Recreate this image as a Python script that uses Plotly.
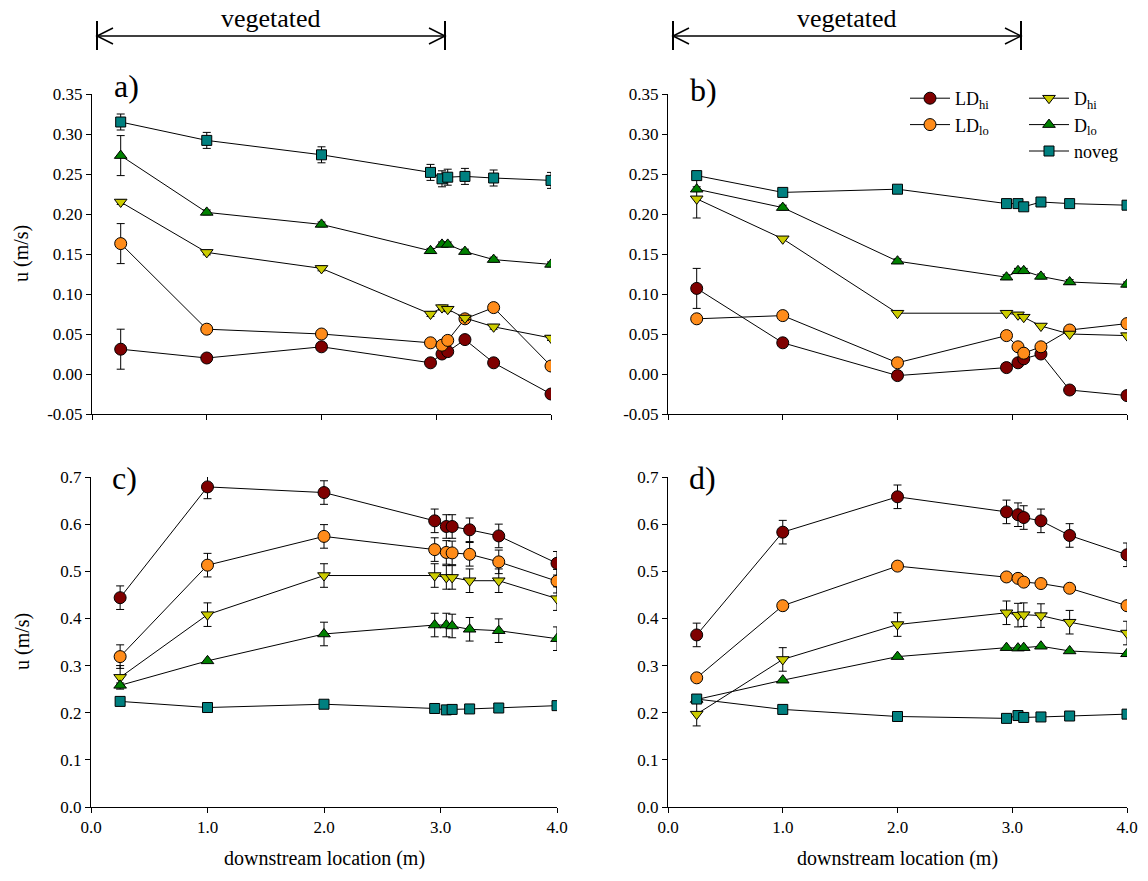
import plotly.graph_objects as go

W, H = 1148, 881

# ---------------- data ----------------
X = [0.25, 1.0, 2.0, 2.95, 3.05, 3.10, 3.25, 3.50, 4.0]

series_names = ["LD<sub>hi</sub>", "LD<sub>lo</sub>", "D<sub>hi</sub>", "D<sub>lo</sub>", "noveg"]

# panel a
LDhi_a = [0.031, 0.020, 0.034, 0.014, 0.025, 0.028, 0.043, 0.014, -0.025]
LDlo_a = [0.163, 0.056, 0.050, 0.039, 0.036, 0.042, 0.069, 0.083, 0.010]
Dhi_a = [0.215, 0.152, 0.132, 0.075, 0.083, 0.081, 0.070, 0.059, 0.045]
Dlo_a = [0.273, 0.202, 0.187, 0.154, 0.162, 0.162, 0.153, 0.143, 0.137]
noveg_a = [0.315, 0.292, 0.274, 0.252, 0.244, 0.246, 0.247, 0.245, 0.242]
err_LDhi_a = [0.025, 0, 0, 0, 0, 0, 0, 0, 0]
err_LDlo_a = [0.025, 0, 0, 0, 0, 0, 0, 0, 0]
err_Dhi_a = [0.003, 0.003, 0.003, 0.003, 0.003, 0.003, 0.003, 0.003, 0.003]
err_Dlo_a = [0.025, 0.003, 0.003, 0.003, 0.003, 0.003, 0.003, 0.003, 0.003]
err_noveg_a = [0.01, 0.01, 0.01, 0.01, 0.01, 0.01, 0.01, 0.01, 0.01]

# panel b
LDhi_b = [0.107, 0.039, -0.002, 0.008, 0.014, 0.019, 0.025, -0.020, -0.027]
LDlo_b = [0.069, 0.073, 0.014, 0.048, 0.034, 0.026, 0.034, 0.055, 0.063]
Dhi_b = [0.219, 0.169, 0.076, 0.076, 0.074, 0.071, 0.060, 0.050, 0.048]
Dlo_b = [0.231, 0.208, 0.141, 0.121, 0.129, 0.129, 0.122, 0.115, 0.112]
noveg_b = [0.248, 0.227, 0.231, 0.213, 0.213, 0.209, 0.215, 0.213, 0.211]
err_LDhi_b = [0.025, 0, 0, 0, 0, 0, 0, 0, 0]
err_LDlo_b = [0, 0, 0, 0, 0, 0, 0, 0, 0]
err_Dhi_b = [0.024, 0, 0, 0, 0, 0, 0, 0, 0]
err_Dlo_b = [0.003, 0.003, 0.003, 0.003, 0.003, 0.003, 0.003, 0.003, 0.003]
err_noveg_b = [0.003, 0.003, 0.003, 0.003, 0.003, 0.003, 0.003, 0.003, 0.003]

# panel c
LDhi_c = [0.444, 0.679, 0.667, 0.607, 0.595, 0.595, 0.588, 0.575, 0.517]
LDlo_c = [0.319, 0.513, 0.574, 0.546, 0.540, 0.539, 0.536, 0.520, 0.479]
Dhi_c = [0.275, 0.408, 0.491, 0.491, 0.487, 0.487, 0.480, 0.480, 0.442]
Dlo_c = [0.258, 0.310, 0.367, 0.386, 0.386, 0.384, 0.377, 0.374, 0.357]
noveg_c = [0.224, 0.211, 0.218, 0.209, 0.206, 0.207, 0.208, 0.210, 0.215]
err_LDhi_c = [0.025] * 9
err_LDlo_c = [0.025] * 9
err_Dhi_c = [0.025] * 9
err_Dlo_c = [0.005, 0, 0.025, 0.025, 0.025, 0.025, 0.025, 0.025, 0.025]
err_noveg_c = [0.005] * 9

# panel d
LDhi_d = [0.365, 0.583, 0.658, 0.626, 0.620, 0.614, 0.607, 0.576, 0.535]
LDlo_d = [0.274, 0.427, 0.511, 0.488, 0.485, 0.477, 0.474, 0.464, 0.427]
Dhi_d = [0.197, 0.313, 0.387, 0.412, 0.407, 0.408, 0.406, 0.392, 0.369]
Dlo_d = [0.228, 0.269, 0.319, 0.338, 0.337, 0.338, 0.341, 0.331, 0.325]
noveg_d = [0.229, 0.207, 0.192, 0.188, 0.194, 0.190, 0.191, 0.193, 0.197]
err_LDhi_d = [0.025] * 9
err_LDlo_d = [0] * 9
err_Dhi_d = [0.025] * 9
err_Dlo_d = [0] * 9
err_noveg_d = [0.008, 0, 0, 0, 0, 0, 0, 0, 0]

x_tickvals = [0, 1, 2, 3, 4]
x_ticktext = ["0.0", "1.0", "2.0", "3.0", "4.0"]
y_ticks_top = [-0.05, 0.0, 0.05, 0.10, 0.15, 0.20, 0.25, 0.30, 0.35]
y_ticktext_top = ["-0.05", "0.00", "0.05", "0.10", "0.15", "0.20", "0.25", "0.30", "0.35"]
y_ticks_bottom = [0.0, 0.1, 0.2, 0.3, 0.4, 0.5, 0.6, 0.7]
y_ticktext_bottom = ["0.0", "0.1", "0.2", "0.3", "0.4", "0.5", "0.6", "0.7"]

# ---------------- styles ----------------
colors = ["#7f0000", "#ff8c1a", "#cccc00", "#008000", "#008080"]
symbols = ["circle", "circle", "triangle-down", "triangle-up", "square"]
sizes = [12, 12, 11, 11, 10]
legend_ids = ["legend", "legend", "legend2", "legend2", "legend2"]
FONT = "Liberation Serif"

panels = [
    ("x", "y", [LDhi_a, LDlo_a, Dhi_a, Dlo_a, noveg_a],
     [err_LDhi_a, err_LDlo_a, err_Dhi_a, err_Dlo_a, err_noveg_a]),
    ("x2", "y2", [LDhi_b, LDlo_b, Dhi_b, Dlo_b, noveg_b],
     [err_LDhi_b, err_LDlo_b, err_Dhi_b, err_Dlo_b, err_noveg_b]),
    ("x3", "y3", [LDhi_c, LDlo_c, Dhi_c, Dlo_c, noveg_c],
     [err_LDhi_c, err_LDlo_c, err_Dhi_c, err_Dlo_c, err_noveg_c]),
    ("x4", "y4", [LDhi_d, LDlo_d, Dhi_d, Dlo_d, noveg_d],
     [err_LDhi_d, err_LDlo_d, err_Dhi_d, err_Dlo_d, err_noveg_d]),
]

fig = go.Figure()
for pi, (xa, ya, ys, errs) in enumerate(panels):
    for si in range(5):
        fig.add_trace(go.Scatter(
            x=X, y=ys[si], xaxis=xa, yaxis=ya,
            mode="lines+markers",
            name=series_names[si],
            legend=legend_ids[si],
            showlegend=(pi == 1),
            line=dict(color="black", width=1),
            marker=dict(symbol=symbols[si], size=sizes[si], color=colors[si],
                        line=dict(color="black", width=1)),
            error_y=dict(type="data", array=errs[si], visible=True,
                         color="black", thickness=1, width=4),
        ))


def px(xp, yp):
    return xp / W, 1 - yp / H


def xdom(l, r):
    return [l / W, r / W]


def ydom(t, b):
    return [1 - b / H, 1 - t / H]


axis_common = dict(showline=True, linecolor="black", linewidth=1, ticks="outside",
                   ticklen=5, tickcolor="black", showgrid=False, zeroline=False,
                   automargin=False,
                   tickfont=dict(family=FONT, size=17, color="black"))

legend_font = dict(family=FONT, size=18, color="black")
layout = dict(
    template="none",
    width=W, height=H, margin=dict(l=0, r=0, t=0, b=0, autoexpand=False),
    paper_bgcolor="white", plot_bgcolor="white",
    font=dict(family=FONT, color="black"),
    xaxis=dict(domain=xdom(92, 551), range=[0, 4], tickvals=x_tickvals,
               showticklabels=False, anchor="y", **axis_common),
    yaxis=dict(domain=ydom(94, 414), range=[-0.05, 0.35], tickvals=y_ticks_top,
               ticktext=y_ticktext_top, anchor="x", **axis_common),
    xaxis2=dict(domain=xdom(668, 1127), range=[0, 4], tickvals=x_tickvals,
                showticklabels=False, anchor="y2", **axis_common),
    yaxis2=dict(domain=ydom(94, 414), range=[-0.05, 0.35], tickvals=y_ticks_top,
                ticktext=y_ticktext_top, anchor="x2", **axis_common),
    xaxis3=dict(domain=xdom(91, 557), range=[0, 4], tickvals=x_tickvals,
                ticktext=x_ticktext, anchor="y3", **axis_common),
    yaxis3=dict(domain=ydom(477, 807), range=[0, 0.7], tickvals=y_ticks_bottom,
                ticktext=y_ticktext_bottom, anchor="x3", **axis_common),
    xaxis4=dict(domain=xdom(668, 1127), range=[0, 4], tickvals=x_tickvals,
                ticktext=x_ticktext, anchor="y4", **axis_common),
    yaxis4=dict(domain=ydom(477, 807), range=[0, 0.7], tickvals=y_ticks_bottom,
                ticktext=y_ticktext_bottom, anchor="x4", **axis_common),
    legend=dict(x=px(905, 0)[0], y=px(0, 80)[1], xanchor="left", yanchor="top",
                itemwidth=40,
                bgcolor="rgba(0,0,0,0)", borderwidth=0, font=legend_font, tracegroupgap=0),
    legend2=dict(x=px(1024, 0)[0], y=px(0, 80)[1], xanchor="left", yanchor="top",
                 itemwidth=40,
                 bgcolor="rgba(0,0,0,0)", borderwidth=0, font=legend_font, tracegroupgap=0),
)
fig.update_layout(**layout)

annotations = []
shapes = []

# panel letters
for label, (xp, yp) in [("a)", (126, 86)), ("b)", (703, 90)), ("c)", (125, 478)), ("d)", (702, 478))]:
    x, y = px(xp, yp)
    annotations.append(dict(text=label, x=x, y=y, xref="paper", yref="paper",
                            showarrow=False, xanchor="center", yanchor="middle",
                            font=dict(family=FONT, size=32, color="black")))

# y axis titles
for yp in (254, 642):
    x, y = px(22, yp)
    annotations.append(dict(text="u (m/s)", x=x, y=y, xref="paper", yref="paper",
                            showarrow=False, textangle=-90, xanchor="center", yanchor="middle",
                            font=dict(family=FONT, size=20, color="black")))

# x axis titles
for xp in (324, 897):
    x, y = px(xp, 858)
    annotations.append(dict(text="downstream location (m)", x=x, y=y, xref="paper", yref="paper",
                            showarrow=False, xanchor="center", yanchor="middle",
                            font=dict(family=FONT, size=20, color="black")))

# vegetated arrows
for L, R in [(97, 445), (673, 1021)]:
    yc = 36
    x, y = px((L + R) / 2, 18)
    annotations.append(dict(text="vegetated", x=x, y=y, xref="paper", yref="paper",
                            showarrow=False, xanchor="center", yanchor="middle",
                            font=dict(family=FONT, size=26, color="black")))
    x0, y0 = px(L, yc)
    x1, y1 = px(R, yc)
    shapes.append(dict(type="line", xref="paper", yref="paper", x0=x0, y0=y0, x1=x1, y1=y1,
                       line=dict(color="black", width=1.5)))
    for xb in (L, R):
        a0 = px(xb, 21)
        a1 = px(xb, 50)
        shapes.append(dict(type="line", xref="paper", yref="paper", x0=a0[0], y0=a0[1],
                           x1=a1[0], y1=a1[1], line=dict(color="black", width=2)))
    for tip, d in ((L, 1), (R, -1)):
        p1 = px(tip + d * 16, yc - 8)
        p2 = px(tip, yc)
        p3 = px(tip + d * 16, yc + 8)
        path = f"M {p1[0]} {p1[1]} L {p2[0]} {p2[1]} L {p3[0]} {p3[1]}"
        shapes.append(dict(type="path", xref="paper", yref="paper", path=path,
                           line=dict(color="black", width=1.5)))

fig.update_layout(annotations=annotations, shapes=shapes)
fig.write_html("out.html", config={"displayModeBar": False},
               post_script="document.body.style.margin='0';document.body.style.overflow='hidden';")
